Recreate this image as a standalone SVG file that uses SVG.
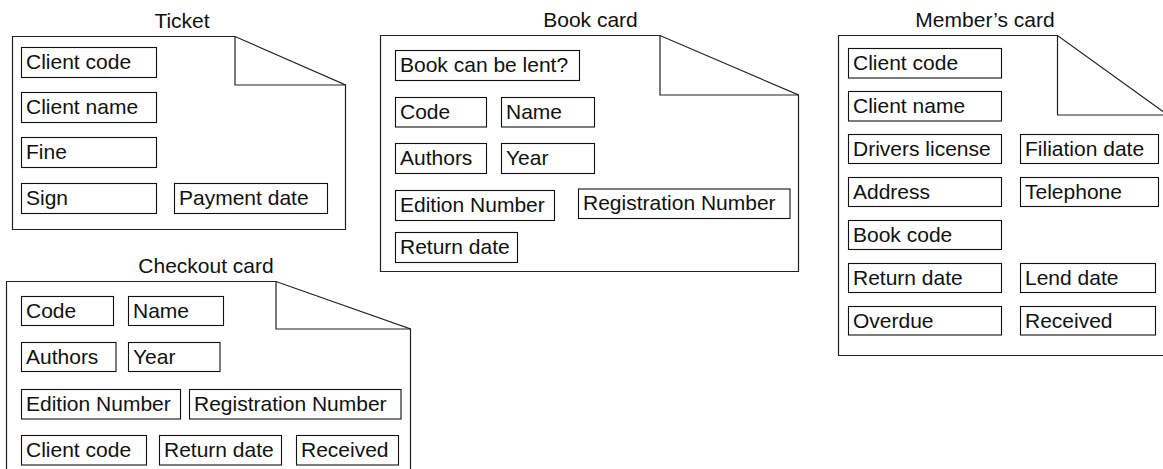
<svg xmlns="http://www.w3.org/2000/svg" width="1163" height="469" viewBox="0 0 1163 469">
  <style>
    .card { fill: #fff; stroke: #222; stroke-width: 1.2; }
    .fold { fill: none; stroke: #222; stroke-width: 1.2; }
    .field rect { fill: #fff; stroke: #111; stroke-width: 1.1; }
    text { font-family: "Liberation Sans", Arial, sans-serif; font-size: 21px; fill: #111; }
    .title { text-anchor: middle; }
  </style>
  <rect width="1163" height="469" fill="#fff"/>

  <!-- Ticket -->
  <g id="ticket">
    <text class="title" x="182" y="28">Ticket</text>
    <path class="card" d="M12.5,36.5 H235 L345.5,85 V229.5 H12.5 Z"/>
    <path class="fold" d="M235,36.5 V85 H345.5"/>
    <g class="field"><rect x="21.5" y="47.5" width="135" height="30"/><text x="26" y="68.5">Client code</text></g>
    <g class="field"><rect x="21.5" y="92.5" width="135" height="30"/><text x="26" y="113.5">Client name</text></g>
    <g class="field"><rect x="21.5" y="137.5" width="135" height="30"/><text x="26" y="158.5">Fine</text></g>
    <g class="field"><rect x="21.5" y="183.5" width="135" height="30"/><text x="26" y="204.5">Sign</text></g>
    <g class="field"><rect x="174.5" y="183.5" width="153" height="30"/><text x="179" y="204.5">Payment date</text></g>
  </g>

  <!-- Book card -->
  <g id="book-card">
    <text class="title" x="590.5" y="27">Book card</text>
    <path class="card" d="M380.5,35.5 H660 L798.5,95 V271.5 H380.5 Z"/>
    <path class="fold" d="M660,35.5 V95 H798.5"/>
    <g class="field"><rect x="395.5" y="50.5" width="184" height="30"/><text x="400" y="71.5">Book can be lent?</text></g>
    <g class="field"><rect x="395.5" y="97.5" width="91" height="29.5"/><text x="400" y="118.5">Code</text></g>
    <g class="field"><rect x="501.5" y="97.5" width="93" height="29.5"/><text x="506" y="118.5">Name</text></g>
    <g class="field"><rect x="395.5" y="143.5" width="91" height="30"/><text x="400" y="164.5">Authors</text></g>
    <g class="field"><rect x="501.5" y="143.5" width="93" height="30"/><text x="506" y="164.5">Year</text></g>
    <g class="field"><rect x="395.5" y="190.5" width="159" height="30"/><text x="400" y="211.5">Edition Number</text></g>
    <g class="field"><rect x="578.5" y="189" width="211.5" height="29.5"/><text x="583" y="210">Registration Number</text></g>
    <g class="field"><rect x="395.5" y="232.5" width="122" height="30"/><text x="400" y="253.5">Return date</text></g>
  </g>

  <!-- Member's card -->
  <g id="members-card">
    <text class="title" x="985" y="27">Member’s card</text>
    <path class="card" d="M838.5,35.5 H1057.5 L1168,115 V355.5 H838.5 Z"/>
    <path class="fold" d="M1057.5,35.5 V115 H1168"/>
    <g class="field"><rect x="848.5" y="48.5" width="153" height="29.5"/><text x="853" y="69.5">Client code</text></g>
    <g class="field"><rect x="848.5" y="91.5" width="153" height="29.5"/><text x="853" y="112.5">Client name</text></g>
    <g class="field"><rect x="848.5" y="134.5" width="153" height="29"/><text x="853" y="155.5">Drivers license</text></g>
    <g class="field"><rect x="1020.5" y="134.5" width="138" height="29"/><text x="1025" y="155.5">Filiation date</text></g>
    <g class="field"><rect x="848.5" y="177.5" width="153" height="29"/><text x="853" y="198.5">Address</text></g>
    <g class="field"><rect x="1020.5" y="177.5" width="138" height="29"/><text x="1025" y="198.5">Telephone</text></g>
    <g class="field"><rect x="848.5" y="220.5" width="153" height="29"/><text x="853" y="241.5">Book code</text></g>
    <g class="field"><rect x="848.5" y="263.5" width="153" height="29"/><text x="853" y="284.5">Return date</text></g>
    <g class="field"><rect x="1020.5" y="263.5" width="135" height="29"/><text x="1025" y="284.5">Lend date</text></g>
    <g class="field"><rect x="848.5" y="306.5" width="153" height="28.5"/><text x="853" y="327.5">Overdue</text></g>
    <g class="field"><rect x="1020.5" y="306.5" width="135" height="28.5"/><text x="1025" y="327.5">Received</text></g>
  </g>

  <!-- Checkout card -->
  <g id="checkout-card">
    <text class="title" x="206" y="273">Checkout card</text>
    <path class="card" d="M6.5,281.5 H276 L410.5,329 V480 H6.5 Z"/>
    <path class="fold" d="M276,281.5 V329 H410.5"/>
    <g class="field"><rect x="21.5" y="296.5" width="92" height="29"/><text x="26" y="317.5">Code</text></g>
    <g class="field"><rect x="128.5" y="296.5" width="95" height="29"/><text x="133" y="317.5">Name</text></g>
    <g class="field"><rect x="21.5" y="342.5" width="94.5" height="29"/><text x="26" y="363.5">Authors</text></g>
    <g class="field"><rect x="128.5" y="342.5" width="91.5" height="29"/><text x="133" y="363.5">Year</text></g>
    <g class="field"><rect x="21.5" y="389.5" width="159" height="29.5"/><text x="26" y="410.5">Edition Number</text></g>
    <g class="field"><rect x="189.5" y="389.5" width="211.5" height="29.5"/><text x="194" y="410.5">Registration Number</text></g>
    <g class="field"><rect x="21.5" y="435.5" width="125" height="29.5"/><text x="26" y="456.5">Client code</text></g>
    <g class="field"><rect x="159.5" y="435.5" width="122" height="29.5"/><text x="164" y="456.5">Return date</text></g>
    <g class="field"><rect x="296.5" y="435.5" width="102" height="29.5"/><text x="301" y="456.5">Received</text></g>
  </g>
</svg>
